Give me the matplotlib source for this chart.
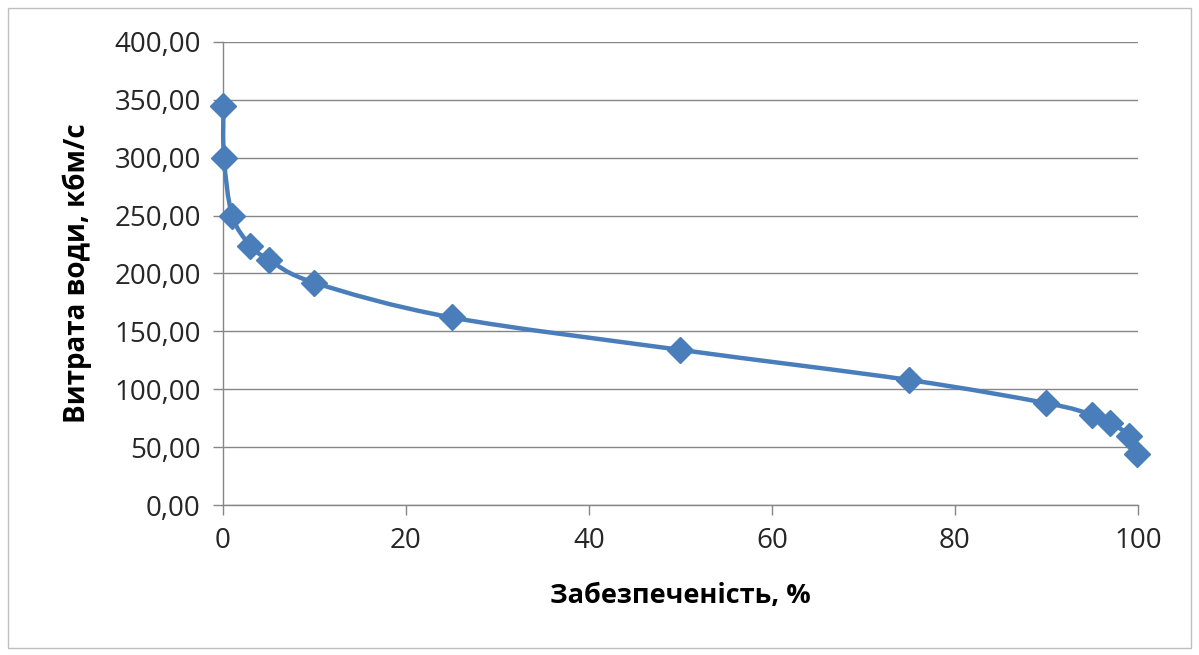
import matplotlib
matplotlib.use("Agg")
import matplotlib.pyplot as plt
from matplotlib.path import Path
from matplotlib.patches import PathPatch, Rectangle
import numpy as np

# data
supply_pct = [0.05, 0.1, 1, 3, 5, 10, 25, 50, 75, 90, 95, 97, 99, 99.9]
flow = [345, 300, 250, 224, 212, 192, 162, 134, 108, 88, 78, 71, 60, 44]
x_ticks = [0, 20, 40, 60, 80, 100]
y_ticks = [0, 50, 100, 150, 200, 250, 300, 350, 400]

blue = '#4a7ebb'
grey = '#868686'
plt.rcParams['font.family'] = ['Open Sans', 'DejaVu Sans']


def smooth_path(xs, ys, t=1/6.):
    # bezier through points, like the excel "smoothed line" option
    pts = list(zip(xs, ys))
    verts = [pts[0]]
    codes = [Path.MOVETO]
    for i in range(len(pts) - 1):
        p0 = pts[max(i - 1, 0)]
        p1 = pts[i]
        p2 = pts[i + 1]
        p3 = pts[min(i + 2, len(pts) - 1)]
        c1 = (p1[0] + (p2[0] - p0[0]) * t, p1[1] + (p2[1] - p0[1]) * t)
        c2 = (p2[0] - (p3[0] - p1[0]) * t, p2[1] - (p3[1] - p1[1]) * t)
        verts += [c1, c2, p2]
        codes += [Path.CURVE4] * 3
    return Path(verts, codes)


fig = plt.figure(figsize=(11.99, 6.55), dpi=100)
fig.patches.append(Rectangle((0.007, 0.011), 0.986, 0.977, transform=fig.transFigure,
                             fill=False, edgecolor='#bfbfbf', linewidth=1))
ax = fig.add_axes([0.186, 0.229, 0.763, 0.707])

ax.set_xlim(0, 100)
ax.set_ylim(0, 400)
ax.set_xticks(x_ticks)
ax.set_yticks(y_ticks)
ax.set_yticklabels(['{:.2f}'.format(v).replace('.', ',') for v in y_ticks])
ax.grid(axis='y', color=grey, linewidth=1)
ax.set_axisbelow(True)

for s in ['top', 'right']:
    ax.spines[s].set_visible(False)
for s in ['left', 'bottom']:
    ax.spines[s].set_color(grey)
    ax.spines[s].set_linewidth(1)
ax.tick_params(direction='out', length=7, width=1, color=grey, labelsize=20,
               labelcolor='#262626', pad=9)

ax.add_patch(PathPatch(smooth_path(supply_pct, flow), facecolor='none',
                       edgecolor=blue, linewidth=3.2, clip_on=False, zorder=3))
ax.plot(supply_pct, flow, linestyle='none', marker='D', markersize=13,
        color=blue, clip_on=False, zorder=4)

ax.set_xlabel('Забезпеченість, %', fontsize=19.5, fontweight='bold', labelpad=20)
ax.set_ylabel('Витрата води, кбм/с', fontsize=20, fontweight='bold', labelpad=16)

fig.savefig('out.png', dpi=100)
